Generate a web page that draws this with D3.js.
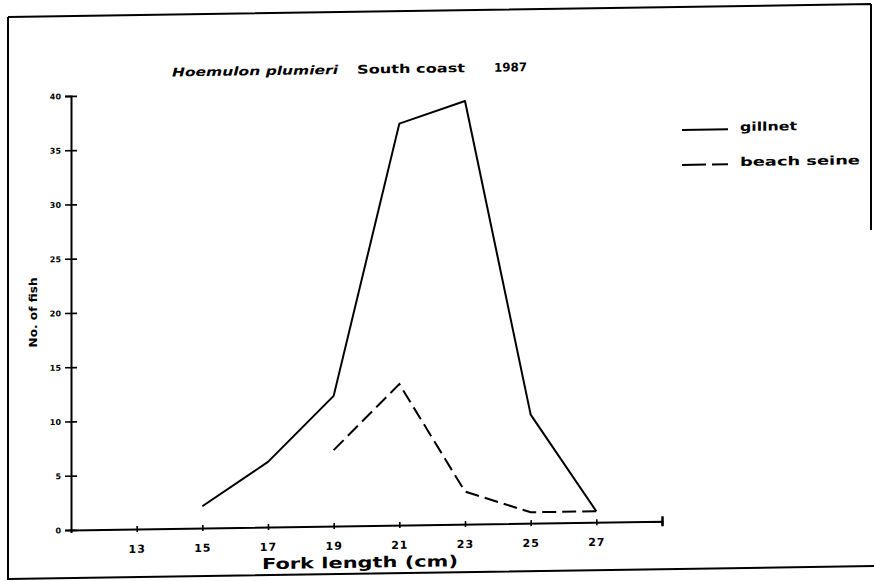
<!DOCTYPE html>
<html>
<head>
<meta charset="utf-8">
<script src="https://cdn.jsdelivr.net/npm/d3@7"></script>
<style>
  html, body { margin: 0; padding: 0; background: #fff; }
  svg { display: block; }
  text { font-family: "DejaVu Sans", "Liberation Sans", sans-serif; font-weight: bold; fill: #000; }
</style>
</head>
<body>
<script>
// ---- data ----
const lengthTicks = [13, 15, 17, 19, 21, 23, 25, 27];
const yTickValues = [0, 5, 10, 15, 20, 25, 30, 35, 40];
const gillnetLength = [15, 17, 19, 21, 23, 25, 27];
const gillnetCount  = [2, 6, 12, 37, 39, 10, 1];
const seineLength   = [19, 21, 23, 25, 27];
const seineCount    = [7, 13, 3, 1, 1];
const seriesNames   = ["gillnet", "beach seine"];
const titleParts    = ["Hoemulon plumieri", "South coast", "1987"];
const xLabel = "Fork length (cm)";
const yLabel = "No. of fish";

const W = 874, H = 581;
const svg = d3.select("body").append("svg").attr("width", W).attr("height", H);

// the scanned page is slightly sheared
const g = svg.append("g").attr("transform", "skewY(-0.85)");

// frame
g.append("path")
  .attr("d", "M8,17 L871,17 M8,17 L8,579 L874,579 M871,17 L871,243")
  .attr("fill", "none").attr("stroke", "#000").attr("stroke-width", 2);

const x = d3.scaleLinear().domain([11, 29]).range([71, 662]);
const y = d3.scaleLinear().domain([0, 40]).range([531, 97]);

// y axis
const yAxis = g.append("g").attr("transform", `translate(${x(11)},0)`)
  .call(d3.axisLeft(y).tickValues(yTickValues).tickSizeOuter(0).tickSize(6).tickPadding(4));
yAxis.select(".domain").attr("stroke-width", 2);
yAxis.selectAll(".tick line").attr("x1", -6).attr("x2", 6).attr("stroke-width", 1.6);
yAxis.selectAll(".tick text").style("font-size", "8px").style("font-weight", "bold")
  .style("font-family", "DejaVu Sans").attr("dy", "0.35em");

// x axis
const xAxis = g.append("g").attr("transform", `translate(0,${y(0)})`)
  .call(d3.axisBottom(x).tickValues(lengthTicks.concat([29]))
    .tickFormat(d => d === 29 ? "" : d).tickSizeOuter(0).tickSize(3).tickPadding(13));
xAxis.select(".domain").attr("stroke-width", 2);
xAxis.selectAll(".tick line").attr("y1", -3).attr("y2", 3).attr("stroke-width", 1.6);
xAxis.selectAll(".tick line").filter(d => d === 29).attr("y1", -5).attr("y2", 5).attr("stroke-width", 2.5);
xAxis.selectAll(".tick text").style("font-size", "11px").style("font-weight", "bold")
  .style("font-family", "DejaVu Sans").style("letter-spacing", "1px");

// lines
const line = d3.line().x(d => x(d[0])).y(d => y(d[1]));
g.append("path")
  .datum(gillnetLength.map((v, i) => [v, gillnetCount[i]]))
  .attr("d", line).attr("fill", "none").attr("stroke", "#000")
  .attr("stroke-width", 2).attr("stroke-linejoin", "round");
g.append("path")
  .datum(seineLength.map((v, i) => [v, seineCount[i]]))
  .attr("d", line).attr("fill", "none").attr("stroke", "#000")
  .attr("stroke-width", 2).attr("stroke-dasharray", "14,6");

// title
const title = [
  { t: titleParts[0], x: 172, len: 166, style: "italic" },
  { t: titleParts[1], x: 357, len: 108, style: "normal" },
  { t: titleParts[2], x: 494, len: 33, style: "normal" }
];
g.selectAll(".title").data(title).enter().append("text")
  .attr("x", d => d.x).attr("y", 79)
  .attr("textLength", d => d.len).attr("lengthAdjust", "spacingAndGlyphs")
  .style("font-size", "12px").style("font-style", d => d.style)
  .text(d => d.t);

// axis titles
g.append("text").attr("x", 262).attr("y", 573)
  .attr("textLength", 196).attr("lengthAdjust", "spacingAndGlyphs")
  .style("font-size", "15px").style("font-weight", "bold").text(xLabel);
g.append("text").attr("transform", "translate(37,313) rotate(-90)")
  .attr("text-anchor", "middle")
  .attr("textLength", 70).attr("lengthAdjust", "spacingAndGlyphs")
  .style("font-size", "11px").text(yLabel);

// legend
const legend = [
  { name: seriesNames[0], y: 140, dash: null },
  { name: seriesNames[1], y: 175, dash: "24,6" }
];
const lg = g.selectAll(".lg").data(legend).enter().append("g");
lg.append("line").attr("x1", 682).attr("x2", 728)
  .attr("y1", d => d.y).attr("y2", d => d.y)
  .attr("stroke", "#000").attr("stroke-width", 2)
  .attr("stroke-dasharray", d => d.dash);
lg.append("text").attr("x", 740).attr("y", d => d.y + 2)
  .attr("textLength", (d, i) => i === 0 ? 57 : 120).attr("lengthAdjust", "spacingAndGlyphs")
  .style("font-size", "12px").text(d => d.name);
</script>
</body>
</html>
